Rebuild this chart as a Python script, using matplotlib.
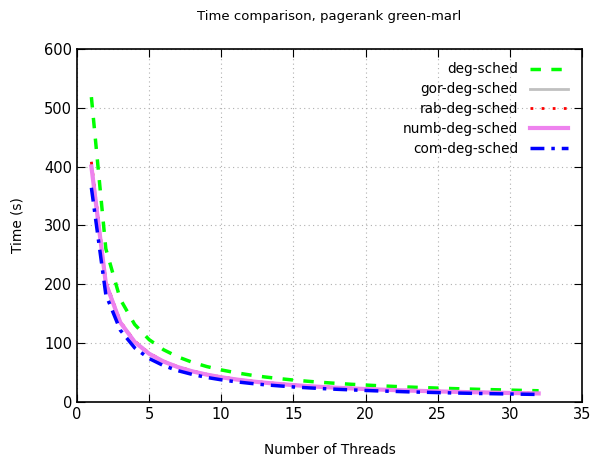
import matplotlib
matplotlib.use("Agg")
import matplotlib.pyplot as plt

threads = list(range(1, 33))
deg_sched = [518, 260.5, 174.7, 131.8, 106, 88.8, 76.6, 67.4, 60.2, 54.5, 49.8, 45.9, 42.6, 39.8, 37.3, 35.2,
             33.3, 31.6, 30.1, 28.8, 27.5, 26.4, 25.4, 24.5, 23.6, 22.8, 22.1, 21.4, 20.8, 20.2, 19.6, 19.1]
gor_deg_sched = [406, 204, 136.5, 103, 82.8, 69.3, 59.7, 52.5, 46.9, 42.4, 38.7, 35.7, 33.1, 30.9, 29.0, 27.3,
                 25.8, 24.5, 23.3, 22.3, 21.3, 20.4, 19.6, 18.9, 18.2, 17.6, 17.0, 16.5, 16.0, 15.5, 15.1, 14.7]
rab_deg_sched = [408, 205, 137, 103.4, 83, 69.5, 59.9, 52.7, 47.0, 42.5, 38.8, 35.8, 33.2, 31.0, 29.0, 27.4,
                 25.9, 24.6, 23.4, 22.3, 21.4, 20.5, 19.7, 18.9, 18.3, 17.6, 17.1, 16.5, 16.0, 15.6, 15.1, 14.7]
numb_deg_sched = [400, 201.5, 135.3, 102, 82, 68.7, 59.2, 52.0, 46.5, 42.0, 38.4, 35.3, 32.8, 30.6, 28.7, 27.0,
                  25.5, 24.2, 23.1, 22.0, 21.1, 20.2, 19.4, 18.7, 18.0, 17.4, 16.8, 16.3, 15.8, 15.3, 14.9, 14.5]
com_deg_sched = [364, 182.5, 122.2, 92, 73.9, 61.8, 53.2, 46.8, 41.7, 37.7, 34.4, 31.7, 29.3, 27.4, 25.6, 24.1,
                 22.8, 21.6, 20.6, 19.6, 18.7, 18.0, 17.2, 16.6, 16.0, 15.4, 14.9, 14.4, 14.0, 13.6, 13.2, 12.8]

plt.rcParams['font.family'] = ['DejaVu Sans']
fig = plt.figure(figsize=(5.92, 4.61), dpi=100)
ax = fig.add_axes([0.130, 0.128, 0.853, 0.766])

ax.plot(threads, deg_sched, color='#00ff00', lw=2.5, ls=(0, (3, 3)), label='deg-sched')
ax.plot(threads, gor_deg_sched, color='#c0c0c0', lw=2, ls='-', label='gor-deg-sched')
ax.plot(threads, rab_deg_sched, color='#ff0000', lw=2, ls=(0, (1, 3)), label='rab-deg-sched')
ax.plot(threads, numb_deg_sched, color='#ee82ee', lw=3, ls='-', label='numb-deg-sched')
ax.plot(threads, com_deg_sched, color='#0000ff', lw=2.5, ls=(0, (4, 2, 1, 2)), label='com-deg-sched')

ax.set_xlim(0, 35)
ax.set_ylim(0, 600)
ax.set_xticks(range(0, 36, 5))
ax.set_yticks(range(0, 601, 100))
ax.tick_params(direction='in', top=True, right=True, length=6, labelsize=10.5)
ax.grid(True, color='#b0b0b0', ls=(0, (1, 3)), lw=0.8)
for s in ax.spines.values():
    s.set_linewidth(1.2)

ax.set_xlabel('Number of Threads', fontsize=9.8, labelpad=15)
ax.set_ylabel('Time (s)', fontsize=9.8, labelpad=14)
ax.set_title('Time comparison, pagerank green-marl', fontsize=9.5, pad=21)

leg = ax.legend(loc='upper right', frameon=False, markerfirst=False, fontsize=9.8,
                handlelength=2.8, labelspacing=0.43, borderaxespad=0.6, handletextpad=0.9)
for t in leg.get_texts():
    t.set_ha('right')

fig.savefig('out.png', dpi=100)
